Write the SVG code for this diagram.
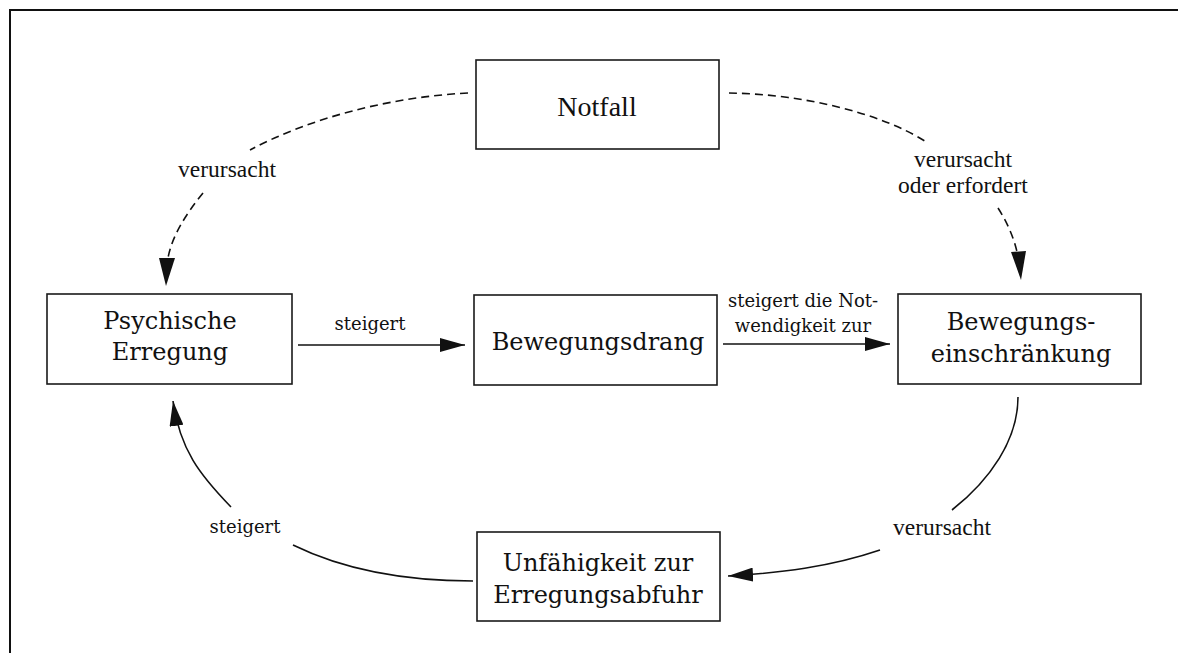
<svg xmlns="http://www.w3.org/2000/svg" width="1178" height="653" viewBox="0 0 1178 653">
  <style>
    .box { fill: #fff; stroke: #1a1a1a; stroke-width: 1.6; }
    .frame { fill: none; stroke: #111; stroke-width: 2; }
    .node { font-family: "DejaVu Serif", serif; font-size: 24px; fill: #111; text-anchor: middle; }
    .times-node { font-family: "Liberation Serif", serif; font-size: 28px; fill: #111; text-anchor: middle; }
    .lbl { font-family: "DejaVu Serif", serif; font-size: 18px; fill: #111; text-anchor: middle; }
    .tlbl { font-family: "Liberation Serif", serif; font-size: 23.5px; fill: #111; text-anchor: middle; }
    .edge { fill: none; stroke: #111; stroke-width: 1.6; }
    .dashed { stroke-dasharray: 8 5; }
  </style>
  <defs>
    <marker id="head" markerWidth="26" markerHeight="14" refX="25" refY="7" orient="auto" markerUnits="userSpaceOnUse">
      <path d="M0,0 L25,7 L0,14 Z" fill="#111"/>
    </marker>
  </defs>

  <rect width="1178" height="653" fill="#fff"/>
  <path class="frame" d="M10,653 V10 H1178"/>

  <g id="connectors">
    <!-- Notfall -> Psychische Erregung (dashed) -->
    <path class="edge dashed" d="M468,93 C390,97 310,118 250,150"/>
    <path class="edge dashed" d="M203,193 C186,214 172,236 168,258"/>
    <path d="M159,258 L175,258 L166,286 Z" fill="#111"/>
    <!-- Notfall -> Bewegungseinschraenkung (dashed) -->
    <path class="edge dashed" d="M729,93 C800,94 880,112 928,143"/>
    <path class="edge dashed" d="M998,208 C1007,222 1014,238 1017,252"/>
    <path d="M1011,252 L1026,251 L1021,280 Z" fill="#111"/>
    <!-- Psychische Erregung -> Bewegungsdrang -->
    <path class="edge" d="M298,345 H465" marker-end="url(#head)"/>
    <!-- Bewegungsdrang -> Bewegungseinschraenkung -->
    <path class="edge" d="M723,344 H890" marker-end="url(#head)"/>
    <!-- Bewegungseinschraenkung -> Unfaehigkeit -->
    <path class="edge" d="M1018,397 C1018,440 990,480 952,510"/>
    <path class="edge" d="M880,550 C830,567 780,573 728,576" marker-end="url(#head)"/>
    <!-- Unfaehigkeit -> Psychische Erregung -->
    <path class="edge" d="M473,581 C400,581 340,568 293,545"/>
    <path class="edge" d="M231,507 C200,475 180,450 173,401" marker-end="url(#head)"/>

    <text class="tlbl" x="227" y="177">verursacht</text>
    <text class="tlbl" x="963" y="167">verursacht</text>
    <text class="tlbl" x="963" y="193">oder erfordert</text>
    <text class="lbl" x="370" y="330">steigert</text>
    <text class="lbl" x="803" y="307">steigert die Not-</text>
    <text class="lbl" x="803" y="332">wendigkeit zur</text>
    <text class="tlbl" x="942" y="535">verursacht</text>
    <text class="lbl" x="245" y="533">steigert</text>
  </g>

  <g id="notfall">
    <rect class="box" x="476" y="60" width="243" height="89"/>
    <text class="times-node" x="597" y="116">Notfall</text>
  </g>
  <g id="psychische-erregung">
    <rect class="box" x="47" y="294" width="245" height="90"/>
    <text class="node" x="170" y="329">Psychische</text>
    <text class="node" x="170" y="360">Erregung</text>
  </g>
  <g id="bewegungsdrang">
    <rect class="box" x="474" y="295" width="243" height="90"/>
    <text class="node" x="598" y="350">Bewegungsdrang</text>
  </g>
  <g id="bewegungseinschraenkung">
    <rect class="box" x="898" y="294" width="243" height="90"/>
    <text class="node" x="1021" y="330">Bewegungs-</text>
    <text class="node" x="1021" y="362">einschränkung</text>
  </g>
  <g id="unfaehigkeit">
    <rect class="box" x="477" y="532" width="243" height="89"/>
    <text class="node" x="598" y="571">Unfähigkeit zur</text>
    <text class="node" x="598" y="603">Erregungsabfuhr</text>
  </g>
</svg>
